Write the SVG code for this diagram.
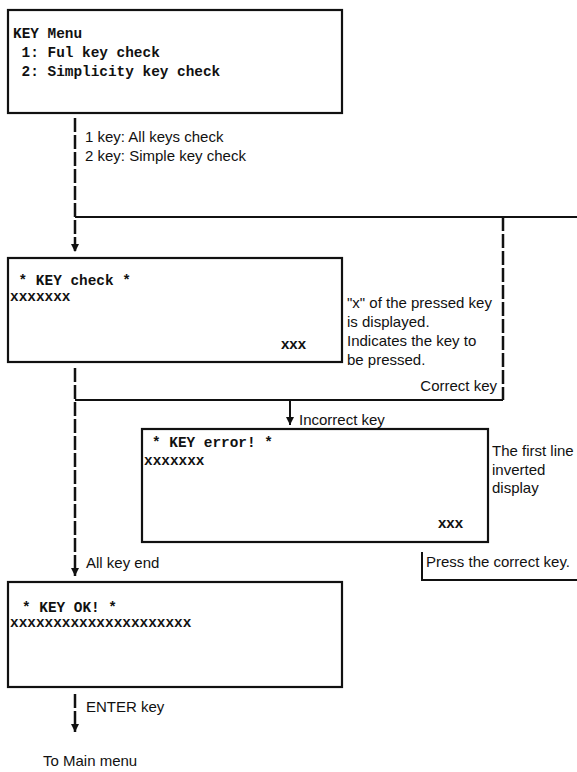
<svg xmlns="http://www.w3.org/2000/svg" width="577" height="772" viewBox="0 0 577 772">
<defs>
<marker id="ad" markerWidth="8" markerHeight="10" refX="4" refY="10" orient="0" markerUnits="userSpaceOnUse" viewBox="0 0 8 10">
<path d="M0,2 L4,10 L8,2 Z" fill="#111"/>
</marker>
</defs>
<style>
.box{fill:#fff;stroke:#111;stroke-width:2.2}
.lcd{font-family:"Liberation Mono","DejaVu Sans Mono",monospace;font-size:14.4px;font-weight:bold;fill:#111}
.row{font-family:"Liberation Mono","DejaVu Sans Mono",monospace;font-size:14.4px;font-weight:bold;fill:#111}
.xxx{font-family:"Liberation Sans",Arial,sans-serif;font-size:15px;font-weight:bold;fill:#111}
.ann{font-family:"Liberation Sans",Arial,sans-serif;font-size:15px;fill:#111}
.con{fill:none;stroke:#111;stroke-width:2}
.dash{fill:none;stroke:#111;stroke-width:2.5;stroke-dasharray:14 3}
</style>
<rect width="577" height="772" fill="#fff"/>
<g id="connectors">
<path class="dash" d="M75,118 V252" marker-end="url(#ad)"/>
<path class="con" d="M75,217 H577"/>
<path class="dash" d="M503,217 V400"/>
<path class="con" d="M75,400 H503"/>
<path class="dash" d="M75,368 V576" marker-end="url(#ad)"/>
<path class="con" d="M290,400 V425" marker-end="url(#ad)"/>
<path class="dash" d="M75,694 V732" marker-end="url(#ad)"/>
<path class="con" d="M422,552 V580 H577"/>
</g>
<g id="menu">
<rect class="box" x="8" y="10" width="334" height="103"/>
<text class="lcd" x="13" y="38">KEY Menu</text>
<text class="lcd" x="21.6" y="57">1: Ful key check</text>
<text class="lcd" x="21.6" y="76">2: Simplicity key check</text>
</g>
<g id="menu-labels">
<text class="ann" x="85" y="142">1 key: All keys check</text>
<text class="ann" x="85" y="161">2 key: Simple key check</text>
</g>
<g id="keycheck">
<rect class="box" x="8" y="258" width="334" height="104"/>
<text class="lcd" x="18.6" y="285">* KEY check *</text>
<text class="row" x="10" y="301">xxxxxxx</text>
<text class="xxx" x="281" y="349">xxx</text>
</g>
<g id="keycheck-note">
<text class="ann" x="347" y="308">"x" of the pressed key</text>
<text class="ann" x="347" y="327">is displayed.</text>
<text class="ann" x="347" y="346">Indicates the key to</text>
<text class="ann" x="347" y="365">be pressed.</text>
<text class="ann" x="497" y="391" text-anchor="end">Correct key</text>
</g>
<g id="incorrect-label">
<text class="ann" x="299" y="425">Incorrect key</text>
</g>
<g id="keyerror">
<rect class="box" x="142" y="429" width="346" height="113"/>
<text class="lcd" x="152" y="447">* KEY error! *</text>
<text class="row" x="144" y="465">xxxxxxx</text>
<text class="xxx" x="438" y="528">xxx</text>
</g>
<g id="keyerror-note">
<text class="ann" x="492" y="456">The first line</text>
<text class="ann" x="492" y="475">inverted</text>
<text class="ann" x="492" y="493">display</text>
</g>
<g id="press-note">
<text class="ann" x="426" y="567">Press the correct key.</text>
</g>
<g id="allkeyend-label">
<text class="ann" x="86" y="568">All key end</text>
</g>
<g id="keyok">
<rect class="box" x="8" y="582" width="334" height="105"/>
<text class="lcd" x="22" y="612">* KEY OK! *</text>
<text class="row" x="10" y="627">xxxxxxxxxxxxxxxxxxxxx</text>
</g>
<g id="enter-label">
<text class="ann" x="86" y="712">ENTER key</text>
</g>
<g id="mainmenu">
<text class="ann" x="43" y="766">To Main menu</text>
</g>
</svg>
